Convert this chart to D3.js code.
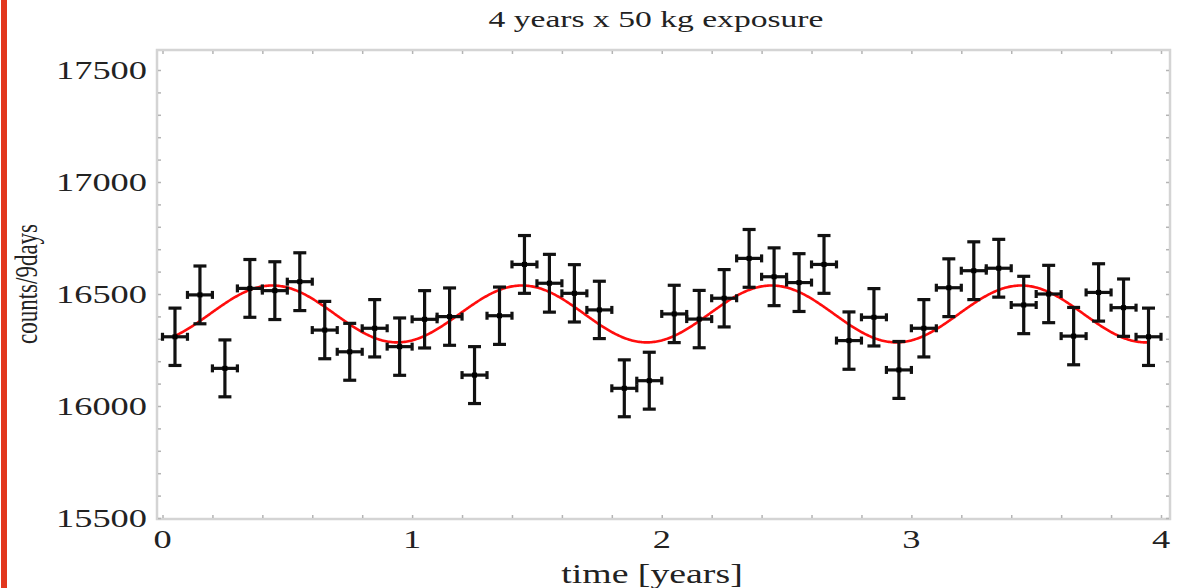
<!DOCTYPE html>
<html><head><meta charset="utf-8">
<script src="https://cdn.jsdelivr.net/npm/d3@7"></script>
<style>html,body{margin:0;padding:0;background:#fff;}svg{display:block;}</style>
</head><body>
<script>
// ---- data ----
const times = [0.05,0.15,0.25,0.35,0.45,0.55,0.65,0.75,0.85,0.95,
               1.05,1.15,1.25,1.35,1.45,1.55,1.65,1.75,1.85,1.95,
               2.05,2.15,2.25,2.35,2.45,2.55,2.65,2.75,2.85,2.95,
               3.05,3.15,3.25,3.35,3.45,3.55,3.65,3.75,3.85,3.95];
const counts = [16309,16496,16168,16525,16515,16555,16339,16242,16347,16265,
                16387,16399,16138,16403,16632,16548,16503,16429,16079,16113,
                16411,16388,16481,16659,16577,16551,16632,16292,16396,16161,
                16347,16528,16604,16615,16451,16500,16312,16507,16439,16309];
const countErrors = [128,129,127,129,129,129,128,127,128,128,
                     128,128,127,128,129,129,128,128,127,127,
                     128,128,128,129,129,129,129,128,128,127,
                     128,129,129,129,128,128,128,128,128,128];
const timeHalfWidth = 0.05;
// fitted modulation model: mean + amp * cos(2*pi*(t - t0)/period)
const fitMean = 16411, fitAmplitude = 127, fitPhase = 0.44, fitPeriod = 1.0;
const fitRange = [0.05, 3.95];
const xTicks = [0,1,2,3,4];
const yTicks = [15500,16000,16500,17000,17500];
const titleText = "4 years x 50 kg exposure";
const xLabel = "time [years]";
const yLabel = "counts/9days";

// ---- layout ----
const W = 1177, H = 588;
const frame = {l:157, r:1170, t:50, b:519};
const sx = 1.4; // horizontal stretch of the source image
const svg = d3.select("body").append("svg").attr("width", W).attr("height", H);
svg.append("rect").attr("width", W).attr("height", H).attr("fill", "#fff");
svg.append("rect").attr("x", 1).attr("y", 0).attr("width", 6).attr("height", H).attr("fill", "#e2361d");

const x = d3.scaleLinear().domain([0,4]).range([162.5, 1161]);
const y = d3.scaleLinear().domain([15500,17500]).range([518, 70]);

// frame
const g = svg.append("g");
g.append("rect").attr("x", frame.l).attr("y", frame.t)
  .attr("width", frame.r-frame.l).attr("height", frame.b-frame.t)
  .attr("fill","none").attr("stroke","#d4d4d4").attr("stroke-width",2.5);

// ticks via d3 axes (inward)
const minorY = d3.range(15500, 17600, 100);
const minorX = d3.range(0, 4.01, 0.2);
function styleAxis(sel){
  sel.select(".domain").remove();
  sel.selectAll("line").attr("stroke","#b4b4b4").attr("stroke-width",1.5);
  sel.selectAll("text").remove();
}
g.append("g").attr("transform",`translate(${frame.l+1},0)`)
  .call(d3.axisLeft(y).tickValues(minorY).tickSize(-3)).call(styleAxis);
g.append("g").attr("transform",`translate(${frame.r-1},0)`)
  .call(d3.axisRight(y).tickValues(minorY).tickSize(-3)).call(styleAxis);
g.append("g").attr("transform",`translate(0,${frame.b-1})`)
  .call(d3.axisBottom(x).tickValues(minorX).tickSize(-3)).call(styleAxis);
g.append("g").attr("transform",`translate(0,${frame.t+1})`)
  .call(d3.axisTop(x).tickValues(minorX).tickSize(-3)).call(styleAxis);

// text helper with horizontal stretch
function stretchedText(px, py, str, size, anchor, rot){
  return svg.append("text")
    .attr("transform", `translate(${px},${py}) scale(${sx},1)` + (rot ? ` rotate(${rot})` : ""))
    .attr("text-anchor", anchor)
    .attr("font-family", "'Liberation Serif', 'DejaVu Serif', serif")
    .attr("font-size", size).attr("fill", "#222").text(str);
}
yTicks.forEach(v => stretchedText(147, y(v)+9, String(v), 26, "end"));
xTicks.forEach(v => stretchedText(x(v), 548, String(v), 26, "middle"));
stretchedText(656, 27, titleText, 24, "middle");
stretchedText(652, 583, xLabel, 27, "middle");
stretchedText(37, 284, yLabel, 23, "middle", -90);

// fit curve
const curveT = d3.range(fitRange[0], fitRange[1]+1e-9, 0.005);
const line = d3.line().x(t => x(t)).y(t => y(fitMean + fitAmplitude*Math.cos(2*Math.PI*(t-fitPhase)/fitPeriod)));
svg.append("path").datum(curveT).attr("d", line)
  .attr("fill","none").attr("stroke","#ff0d0d").attr("stroke-width",2.6);

// data points with error bars
const pts = times.map((t,i)=>({t, v:counts[i], e:countErrors[i]}));
const pg = svg.append("g").attr("stroke","#111").attr("stroke-width",3.2).attr("fill","none");
const P = pg.selectAll("g").data(pts).join("g");
P.append("line").attr("x1",d=>x(d.t)).attr("x2",d=>x(d.t)).attr("y1",d=>y(d.v-d.e)).attr("y2",d=>y(d.v+d.e));
P.append("line").attr("x1",d=>x(d.t)-6.5).attr("x2",d=>x(d.t)+6.5).attr("y1",d=>y(d.v-d.e)).attr("y2",d=>y(d.v-d.e));
P.append("line").attr("x1",d=>x(d.t)-6.5).attr("x2",d=>x(d.t)+6.5).attr("y1",d=>y(d.v+d.e)).attr("y2",d=>y(d.v+d.e));
P.append("line").attr("x1",d=>x(d.t-timeHalfWidth)).attr("x2",d=>x(d.t+timeHalfWidth)).attr("y1",d=>y(d.v)).attr("y2",d=>y(d.v));
P.append("line").attr("x1",d=>x(d.t-timeHalfWidth)).attr("x2",d=>x(d.t-timeHalfWidth)).attr("y1",d=>y(d.v)-4).attr("y2",d=>y(d.v)+4);
P.append("line").attr("x1",d=>x(d.t+timeHalfWidth)).attr("x2",d=>x(d.t+timeHalfWidth)).attr("y1",d=>y(d.v)-4).attr("y2",d=>y(d.v)+4);
P.append("rect").attr("x",d=>x(d.t)-2.5).attr("y",d=>y(d.v)-2.5).attr("width",5).attr("height",5)
  .attr("fill","#000").attr("stroke","none");
</script>
</body></html>
